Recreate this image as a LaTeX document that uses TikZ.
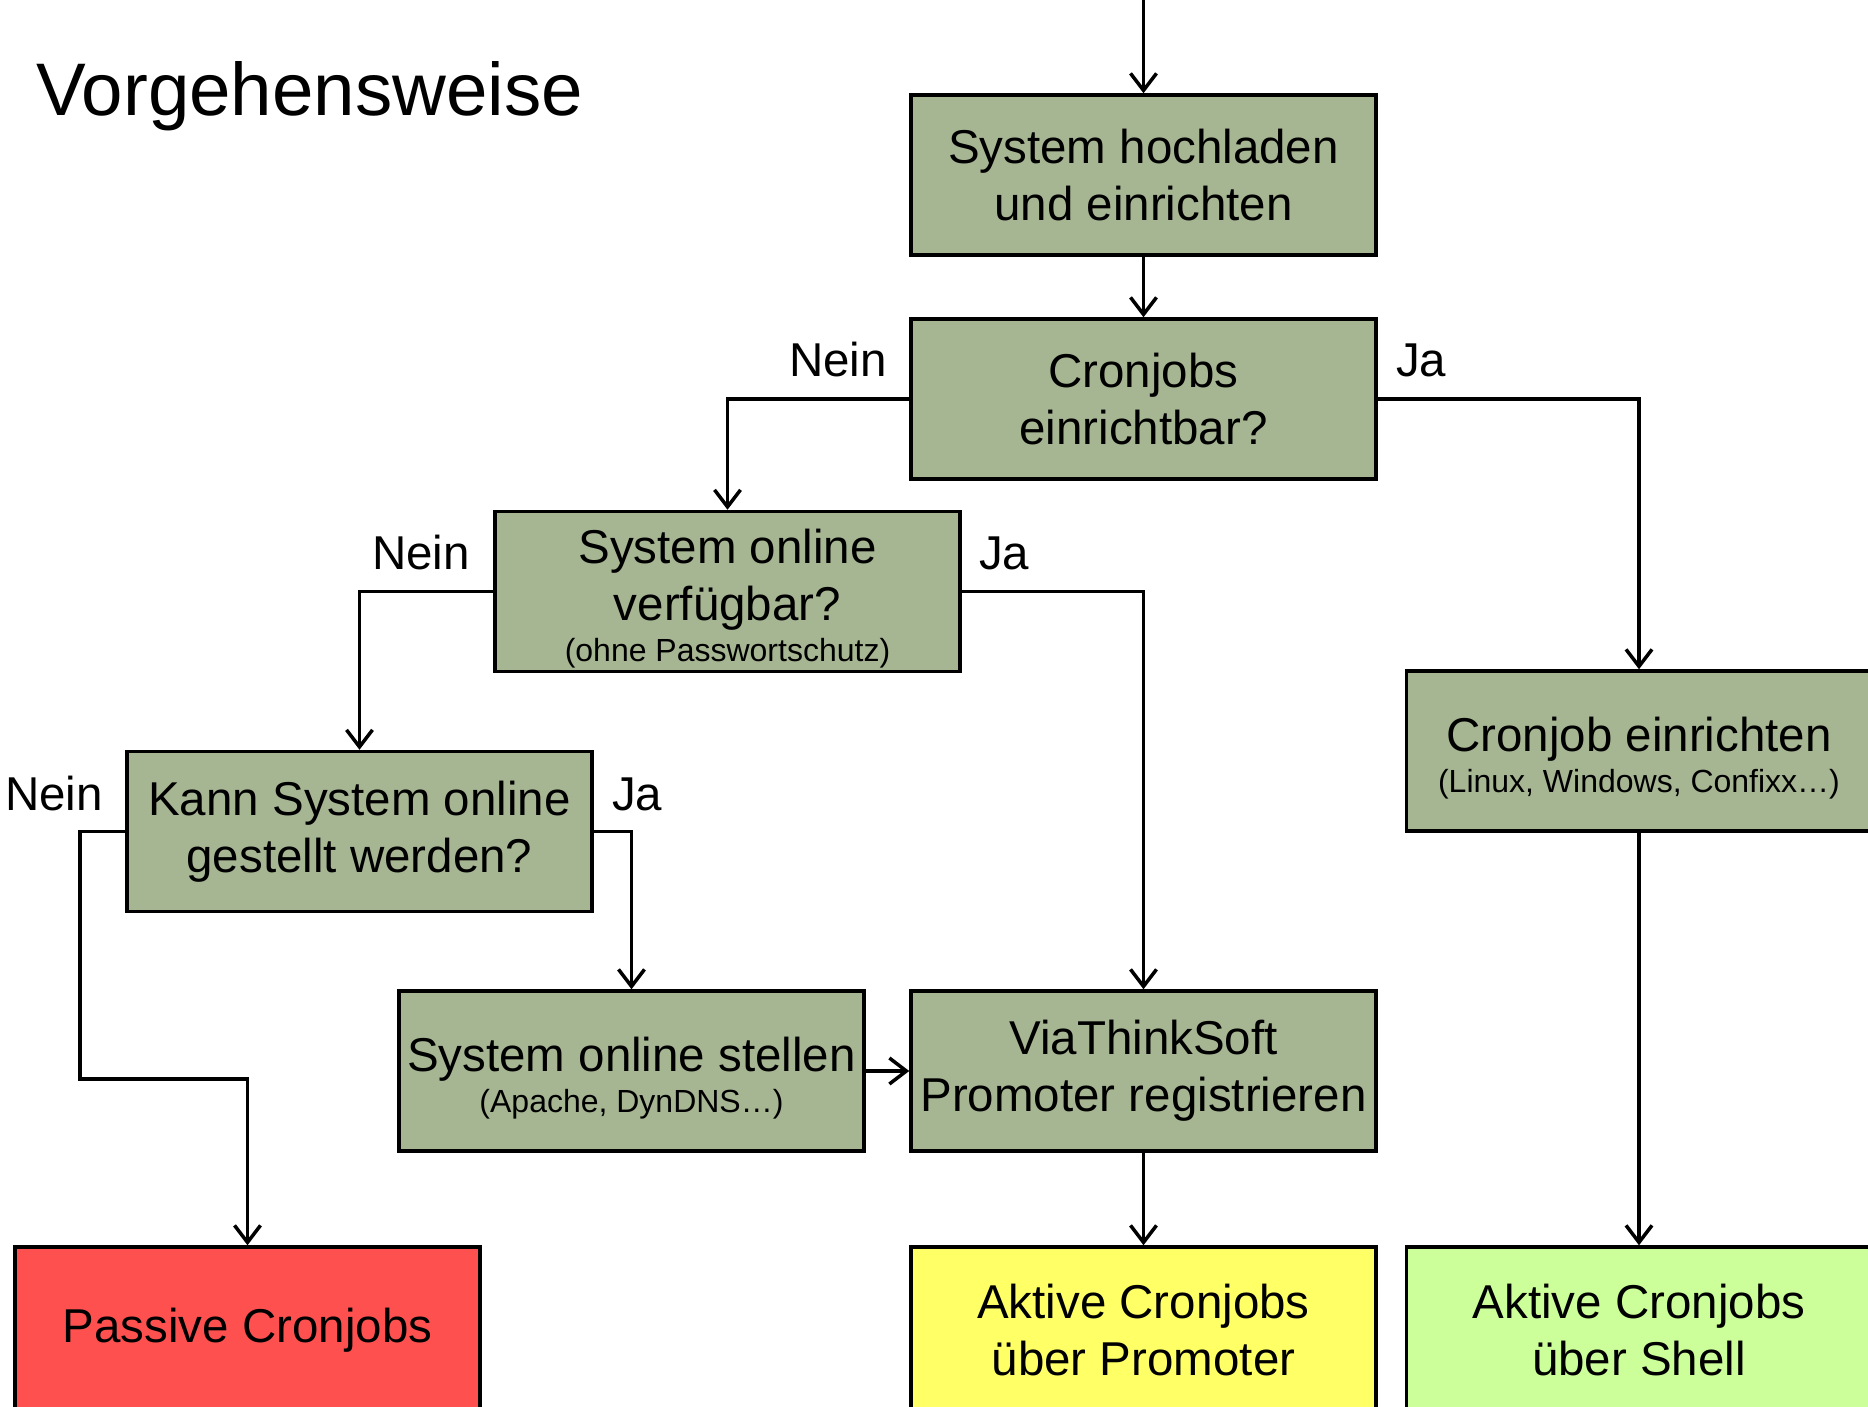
\documentclass[tikz,border=0pt]{standalone}
\usepackage{fontspec}
\setmainfont{Liberation Sans}
\usetikzlibrary{arrows.meta}
\definecolor{boxgreen}{RGB}{166,181,146}
\definecolor{boxred}{RGB}{255,80,80}
\definecolor{boxyellow}{RGB}{255,255,102}
\definecolor{boxlime}{RGB}{204,255,153}
\newcommand{\bigtxt}{\fontsize{47.5}{57}\selectfont}
\newcommand{\smalltxt}{\fontsize{32}{40}\selectfont}
\newcommand{\toppad}{\rule{0pt}{48pt}}
\tikzset{
  stepbox/.style={draw=black, line width=3.5pt, fill=boxgreen, minimum width=465pt,
    minimum height=160pt, inner sep=0pt, align=center, font=\bigtxt},
  endbox/.style={stepbox, minimum height=166pt},
  arr/.style={line width=3.5pt, -{Straight Barb[length=17pt,width=26pt,line width=3.5pt]}},
  lbl/.style={anchor=base west, inner sep=0pt, font=\bigtxt}
}
\begin{document}
\begin{tikzpicture}[x=1pt,y=-1pt]
\useasboundingbox (0,0) rectangle (1868,1407);
\clip (0,0) rectangle (1868,1407);
\fill[white] (0,0) rectangle (1868,1407);

\node[anchor=base west, inner sep=0pt, font=\fontsize{74.5}{80}\selectfont] (title) at (36,116) {Vorgehensweise};

\node[stepbox] (A) at (1143.5,175) {System hochladen\\und einrichten};
\node[stepbox] (B) at (1143.5,399) {Cronjobs\\einrichtbar?};
\node[stepbox] (C) at (727.5,591.5) {\toppad System online\\verfügbar?\\[-16pt]{\smalltxt (ohne Passwortschutz)}};
\node[stepbox] (D) at (1639,751) {\toppad Cronjob einrichten\\[-16pt]{\smalltxt (Linux, Windows, Confixx…)}};
\node[stepbox] (E) at (359.5,831.5) {Kann System online\\gestellt werden?};
\node[stepbox] (F) at (631.5,1071) {\toppad System online stellen\\[-16pt]{\smalltxt (Apache, DynDNS…)}};
\node[stepbox] (G) at (1143.5,1071) {ViaThinkSoft\\Promoter registrieren};
\node[endbox, fill=boxred] (H) at (247.5,1330) {Passive Cronjobs};
\node[endbox, fill=boxyellow] (I) at (1143.5,1330) {Aktive Cronjobs\\über Promoter};
\node[endbox, fill=boxlime] (J) at (1639,1330) {Aktive Cronjobs\\über Shell};

\coordinate (top) at (1143.5,0);
\coordinate (k1) at (80,1079);

\draw[arr] (top) -- (A.north);
\draw[arr] (A.south) -- (B.north);
\draw[arr] (B.west) -| (C.north);
\draw[arr] (B.east) -| (D.north);
\draw[arr] (C.west) -| (E.north);
\draw[arr] (C.east) -| (G.north);
\draw[arr] (E.west) -| (k1) -| (H.north);
\draw[arr] (E.east) -| (F.north);
\draw[arr] (F.east) -- (G.west);
\draw[arr] (G.south) -- (I.north);
\draw[arr] (D.south) -- (J.north);

\node[lbl] (l1) at (789,376) {Nein};
\node[lbl] (l2) at (1396,376) {Ja};
\node[lbl] (l3) at (372,569) {Nein};
\node[lbl] (l4) at (979,569) {Ja};
\node[lbl] (l5) at (5,810) {Nein};
\node[lbl] (l6) at (612,810) {Ja};
\end{tikzpicture}
\end{document}
